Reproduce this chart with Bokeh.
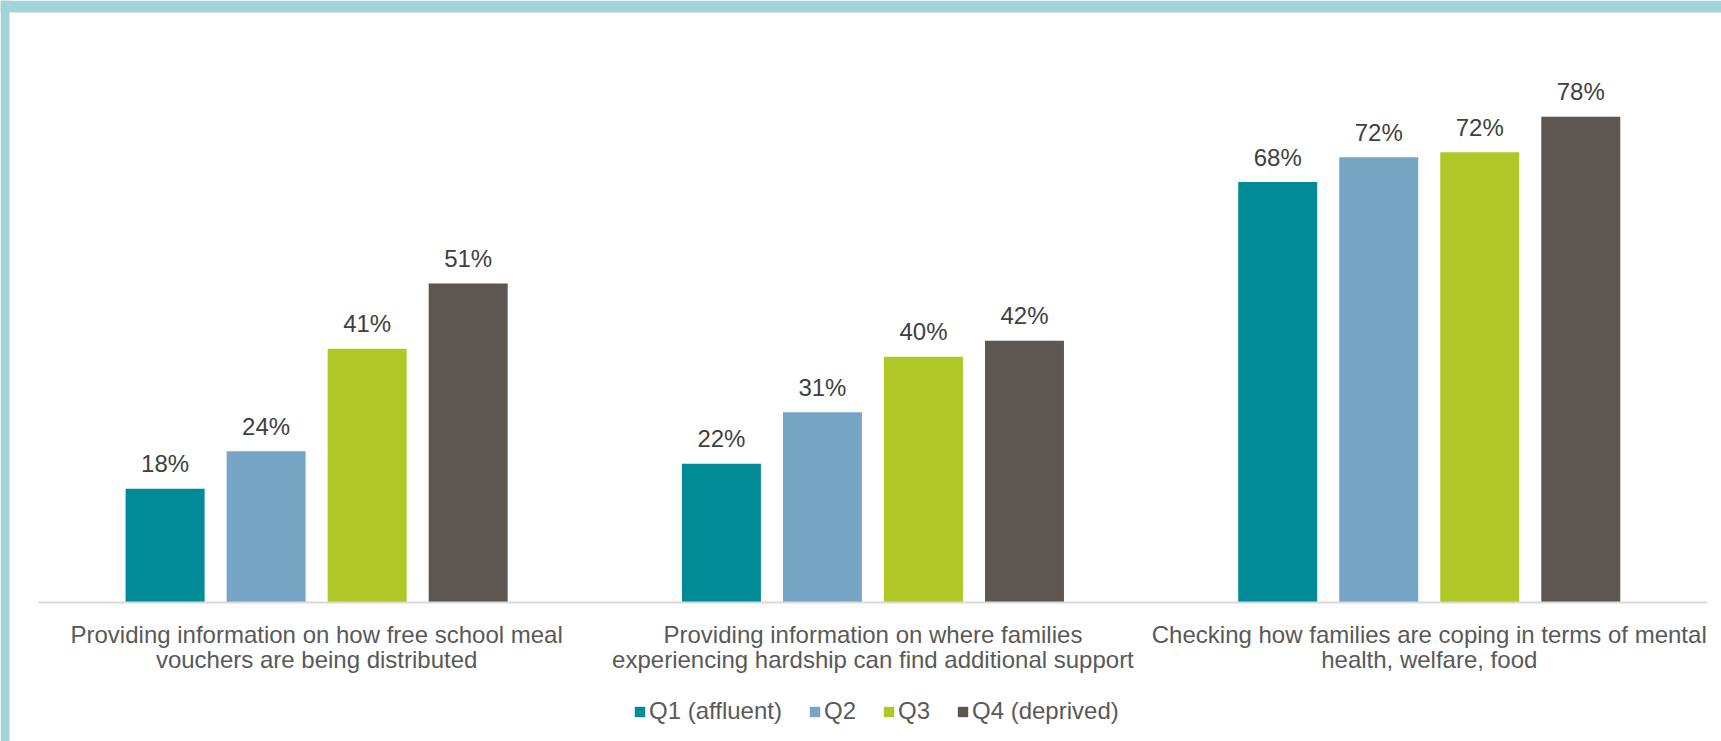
from bokeh.plotting import figure
from bokeh.models import ColumnDataSource, Range1d, Legend, LegendItem, BoxAnnotation
from bokeh.core.properties import value
from bokeh.embed import file_html
from bokeh.resources import INLINE

categories = [
    "Providing information on how free school meal\nvouchers are being distributed",
    "Providing information on where families\nexperiencing hardship can find additional support",
    "Checking how families are coping in terms of mental\nhealth, welfare, food",
]
series_names = ["Q1 (affluent)", "Q2", "Q3", "Q4 (deprived)"]
q1_values = [18.3, 22.3, 67.6]
q2_values = [24.3, 30.6, 71.6]
q3_values = [40.8, 39.5, 72.4]
q4_values = [51.3, 42.1, 78.1]
series_values = [q1_values, q2_values, q3_values, q4_values]
colors = ["#008B96", "#77A6C5", "#B0C827", "#5E5650"]

FONT = "Liberation Sans"
BORDER = "#A0D4D7"

W, H = 1721, 741
x_unit = 556.3   # px per category
y_unit = 6.22    # px per percent
x0_px, base_px = 38, 602
xr = Range1d(-x0_px / x_unit, (W - x0_px) / x_unit)
yr = Range1d(-(H - base_px) / y_unit, base_px / y_unit)

p = figure(
    width=W, height=H,
    output_backend="svg", toolbar_location=None,
    x_axis_location=None, y_axis_location=None,
    x_range=xr, y_range=yr,
    min_border_left=0, min_border_top=0, min_border_right=0, min_border_bottom=0,
    border_fill_color="white", background_fill_color="white",
    outline_line_color=None,
)
p.xgrid.visible = False
p.ygrid.visible = False

# decorative frame bands (top and left)
p.add_layout(BoxAnnotation(left=xr.start, right=xr.end,
                           bottom=yr.end - 12 / y_unit, top=yr.end,
                           fill_color=BORDER, fill_alpha=1,
                           line_color=None, level="underlay"))
p.add_layout(BoxAnnotation(left=xr.start, right=xr.start + 9 / x_unit,
                           bottom=yr.start, top=yr.end,
                           fill_color=BORDER, fill_alpha=1,
                           line_color=None, level="underlay"))

bar_w = 0.142
step = 0.1816
n = len(categories)
legend_items = []
for j, (name, vals, col) in enumerate(zip(series_names, series_values, colors)):
    xs = [i + 0.5 + (j - 1.5) * step for i in range(n)]
    src = ColumnDataSource(dict(x=xs, top=vals, label=[f"{round(v)}%" for v in vals]))
    r = p.vbar(x="x", top="top", bottom=0, width=bar_w, source=src,
               fill_color=col, line_color=None)
    legend_items.append(LegendItem(label=name, renderers=[r]))
    p.text(x="x", y="top", text="label", source=src, y_offset=-25,
           text_align="center", text_baseline="alphabetic",
           text_font=value(FONT), text_font_size="24px", text_color="#404040")

# baseline (category axis line)
p.line(x=[0, n], y=[0, 0], line_color="#D9D9D9", line_width=2)

# category labels (two lines each)
line1 = [c.split("\n")[0] for c in categories]
line2 = [c.split("\n")[1] for c in categories]
cx = [i + 0.5 for i in range(n)]
lab_src = ColumnDataSource(dict(x=cx, y=[0] * n, l1=line1, l2=line2))
for col_name, off in (("l1", 32), ("l2", 57)):
    p.text(x="x", y="y", text=col_name, source=lab_src, y_offset=off,
           text_align="center", text_baseline="alphabetic",
           text_font=value(FONT), text_font_size="24px", text_color="#595959")

legend = Legend(items=legend_items, orientation="horizontal", location=(633, 16),
                glyph_width=13, glyph_height=13, label_standoff=3, spacing=26,
                padding=0, margin=0, border_line_color=None, background_fill_alpha=0,
                label_text_font=FONT, label_text_font_size="24px",
                label_text_color="#595959")
p.add_layout(legend, "center")

open("out.html", "w").write(file_html(p, INLINE))
